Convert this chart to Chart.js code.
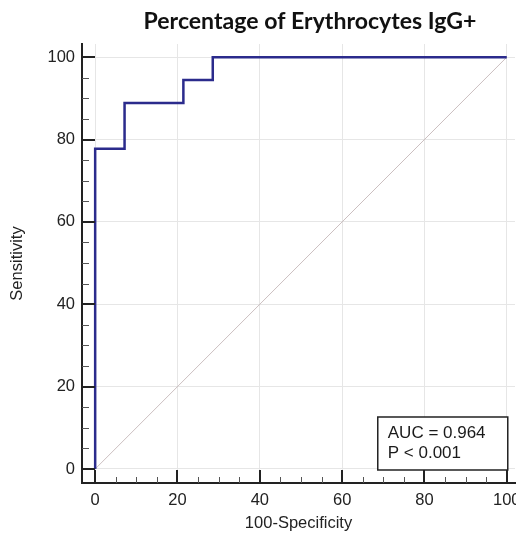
<!DOCTYPE html>
<html>
<head>
<meta charset="utf-8">
<script src="https://cdn.jsdelivr.net/npm/chart.js@4"></script>
<style>
  html, body { margin: 0; padding: 0; background: #ffffff; }
  #wrap { width: 516px; height: 533px; position: relative; }
</style>
</head>
<body>
<div id="wrap"><canvas id="c" width="516" height="533"></canvas></div>
<script>
// ---- data ----
const chartTitle = 'Percentage of Erythrocytes IgG+';
const xTitle = '100-Specificity';
const yTitle = 'Sensitivity';
// ROC curve corner points (100-Specificity, Sensitivity)
const rocFpr = [0, 0, 7.14, 7.14, 21.43, 21.43, 28.57, 28.57, 100];
const rocTpr = [0, 77.78, 77.78, 88.89, 88.89, 94.44, 94.44, 100, 100];
// reference diagonal
const diagX = [0, 100];
const diagY = [0, 100];
// ticks
const majorTicks = [0, 20, 40, 60, 80, 100];
const minorTicks = [5, 10, 15, 25, 30, 35, 45, 50, 55, 65, 70, 75, 85, 90, 95];
const statLines = ['AUC = 0.964', 'P < 0.001'];

const tickFont = { family: 'Liberation Sans, Arial, sans-serif', size: 16.5 };

const rocPoints = rocFpr.map((x, i) => ({ x: x, y: rocTpr[i] }));
const diagPoints = diagX.map((x, i) => ({ x: x, y: diagY[i] }));

const decorPlugin = {
  id: 'decor',
  afterDraw(chart) {
    const ctx = chart.ctx;
    const xs = chart.scales.x, ys = chart.scales.y;
    const ca = chart.chartArea;
    ctx.save();
    // inward tick marks
    ctx.strokeStyle = '#222222';
    ctx.lineCap = 'butt';
    const axX = ca.left, axY = ca.bottom;
    majorTicks.forEach(v => {
      ctx.lineWidth = 2;
      const py = Math.round(ys.getPixelForValue(v));
      ctx.beginPath(); ctx.moveTo(axX, py); ctx.lineTo(axX + 13, py); ctx.stroke();
      const px = Math.round(xs.getPixelForValue(v));
      ctx.beginPath(); ctx.moveTo(px, axY); ctx.lineTo(px, axY - 13); ctx.stroke();
    });
    ctx.strokeStyle = '#555555';
    minorTicks.forEach(v => {
      ctx.lineWidth = 1;
      const py = Math.round(ys.getPixelForValue(v)) + 0.5;
      ctx.beginPath(); ctx.moveTo(axX, py); ctx.lineTo(axX + 7, py); ctx.stroke();
      const px = Math.round(xs.getPixelForValue(v)) + 0.5;
      ctx.beginPath(); ctx.moveTo(px, axY); ctx.lineTo(px, axY - 6); ctx.stroke();
    });
    // stats box anchored at (100, 0)
    const bx2 = xs.getPixelForValue(100) + 1;
    const by2 = ys.getPixelForValue(0) + 1;
    const bw = 130, bh = 53;
    const bx = bx2 - bw, by = by2 - bh;
    ctx.fillStyle = '#ffffff';
    ctx.fillRect(bx, by, bw, bh);
    ctx.lineWidth = 1.5;
    ctx.strokeStyle = '#222222';
    ctx.strokeRect(bx, by, bw, bh);
    ctx.fillStyle = '#1a1a1a';
    ctx.font = '17px "Liberation Sans", Arial, sans-serif';
    ctx.textBaseline = 'middle';
    ctx.textAlign = 'left';
    ctx.fillText(statLines[0], bx + 10, by + 16.5);
    ctx.fillText(statLines[1], bx + 10, by + 36.5);
    // title (sized to the reference width of ~333px)
    ctx.font = 'bold 20px Lato, "Liberation Sans", sans-serif';
    const w20 = ctx.measureText(chartTitle).width;
    const fs = Math.max(16, Math.min(26, 20 * 333 / w20));
    ctx.font = 'bold ' + fs.toFixed(2) + 'px Lato, "Liberation Sans", sans-serif';
    ctx.textAlign = 'center';
    ctx.textBaseline = 'alphabetic';
    ctx.fillStyle = '#111111';
    ctx.fillText(chartTitle, 310, 29);
    ctx.restore();
  }
};

new Chart(document.getElementById('c'), {
  type: 'line',
  data: {
    datasets: [
      {
        label: 'ROC',
        data: rocPoints,
        borderColor: '#2b2b8c',
        borderWidth: 2.5,
        pointRadius: 0,
        tension: 0,
        fill: false,
        borderJoinStyle: 'miter',
        borderCapStyle: 'butt',
        order: 1
      },
      {
        label: 'Reference',
        data: diagPoints,
        borderColor: '#cbbfc0',
        borderWidth: 1,
        pointRadius: 0,
        tension: 0,
        fill: false,
        order: 2
      }
    ]
  },
  options: {
    responsive: false,
    animation: false,
    devicePixelRatio: 1,
    layout: { padding: { top: 44, right: 1, left: 0, bottom: 0 } },
    plugins: {
      legend: { display: false },
      title: { display: false },
      tooltip: { enabled: false }
    },
    scales: {
      x: {
        type: 'linear',
        min: -3.2,
        max: 102,
        afterBuildTicks: (s) => { s.ticks = majorTicks.map(v => ({ value: v })); },
        afterFit: (s) => { s.height = 50; s.paddingLeft = 0; s.paddingRight = 0; },
        grid: { color: '#e6e6e6', lineWidth: 1, drawTicks: false },
        border: { display: true, color: '#222222', width: 2 },
        ticks: { font: tickFont, color: '#222222', padding: 8, maxRotation: 0 },
        title: { display: true, text: xTitle, font: tickFont, color: '#222222', padding: { top: 0, bottom: 0 } }
      },
      y: {
        type: 'linear',
        min: -3.4,
        max: 103.2,
        afterBuildTicks: (s) => { s.ticks = majorTicks.map(v => ({ value: v })); },
        afterFit: (s) => { s.width = 82; s.paddingTop = 0; s.paddingBottom = 0; },
        grid: { color: '#e6e6e6', lineWidth: 1, drawTicks: false },
        border: { display: true, color: '#222222', width: 2 },
        ticks: { font: tickFont, color: '#222222', padding: 7 },
        title: { display: true, text: yTitle, font: tickFont, color: '#222222', padding: { top: 8, bottom: 0 } }
      }
    }
  },
  plugins: [decorPlugin]
});
</script>
</body>
</html>
